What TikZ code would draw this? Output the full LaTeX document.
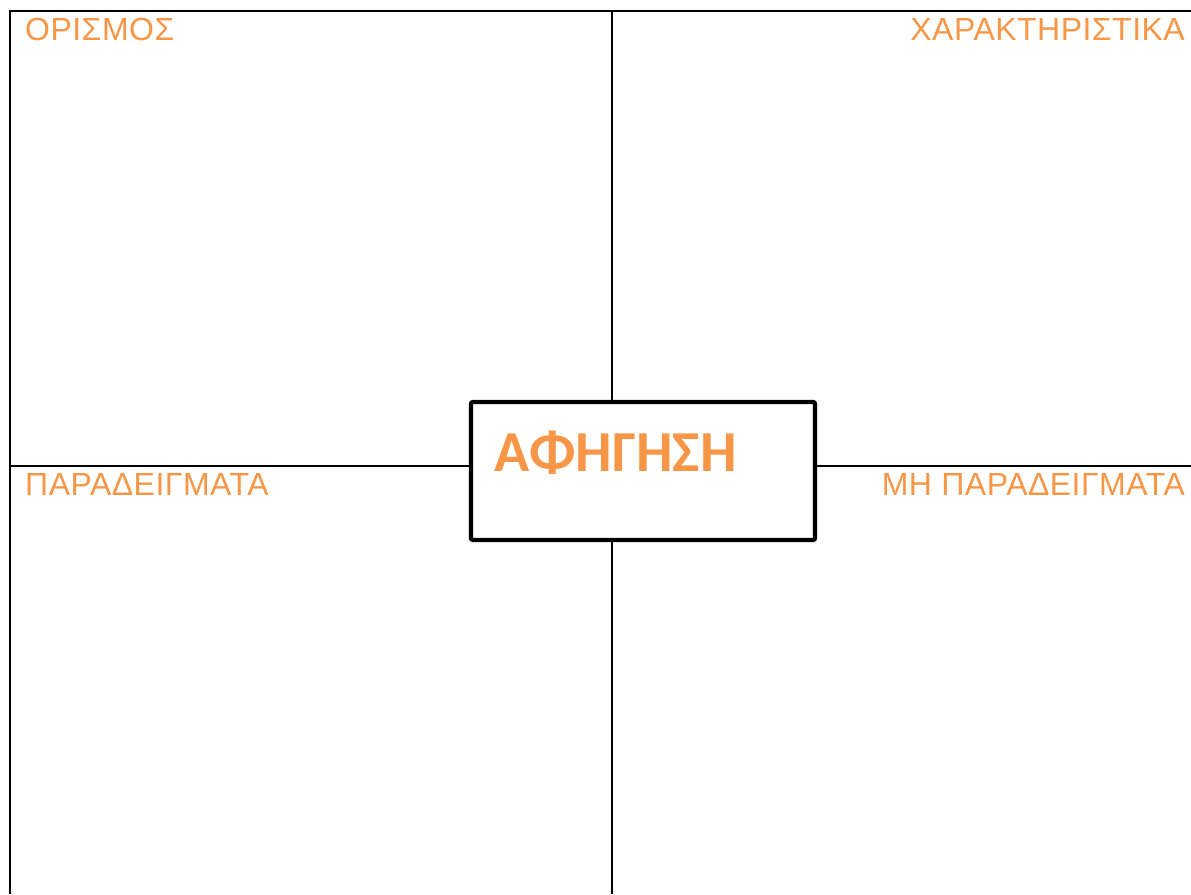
\documentclass[tikz,border=0pt]{standalone}
\usepackage{fontspec}
\setmainfont{Liberation Sans}
\newfontfamily\labelfont[LetterSpace=1.5]{Liberation Sans}
\newfontfamily\titlefont{Carlito}
\definecolor{labelorange}{HTML}{F79646}
\begin{document}
\begin{tikzpicture}[x=1pt,y=-1pt,
  gridline/.style={line width=1.8pt,black},
  label/.style={inner sep=0pt,text=labelorange,font=\labelfont\fontsize{32}{38}\selectfont},
  centerbox/.style={draw=black,line width=4.3pt,fill=white,rounded corners=2pt,minimum width=344pt,minimum height=138pt,inner sep=0pt}]
\useasboundingbox (0,0) rectangle (1191,894);
\coordinate (tl) at (10,11);
\coordinate (tr) at (1191,11);
\coordinate (bl) at (10,894);
\coordinate (vt) at (612,11);
\coordinate (vb) at (612,894);
\coordinate (hl) at (10,466);
\coordinate (hr) at (1191,466);
\draw[gridline] (tr) -- (tl) -- (bl);
\draw[gridline] (vt) -- (vb);
\draw[gridline] (hl) -- (hr);
\node[centerbox] (box) at (643,471) {};
\node[inner sep=0pt,anchor=base west,text=labelorange,font=\titlefont\bfseries\fontsize{58}{62}\selectfont] (title) at (494,471) {ΑΦΗΓΗΣΗ};
\node[label,anchor=base west] (def) at (25,40) {ΟΡΙΣΜΟΣ};
\node[label,anchor=base east] (char) at (1185,40) {ΧΑΡΑΚΤΗΡΙΣΤΙΚΑ};
\node[label,anchor=base west] (ex) at (25,495.5) {ΠΑΡΑΔΕΙΓΜΑΤΑ};
\node[label,anchor=base east] (nonex) at (1185,495.5) {ΜΗ ΠΑΡΑΔΕΙΓΜΑΤΑ};
\end{tikzpicture}
\end{document}
